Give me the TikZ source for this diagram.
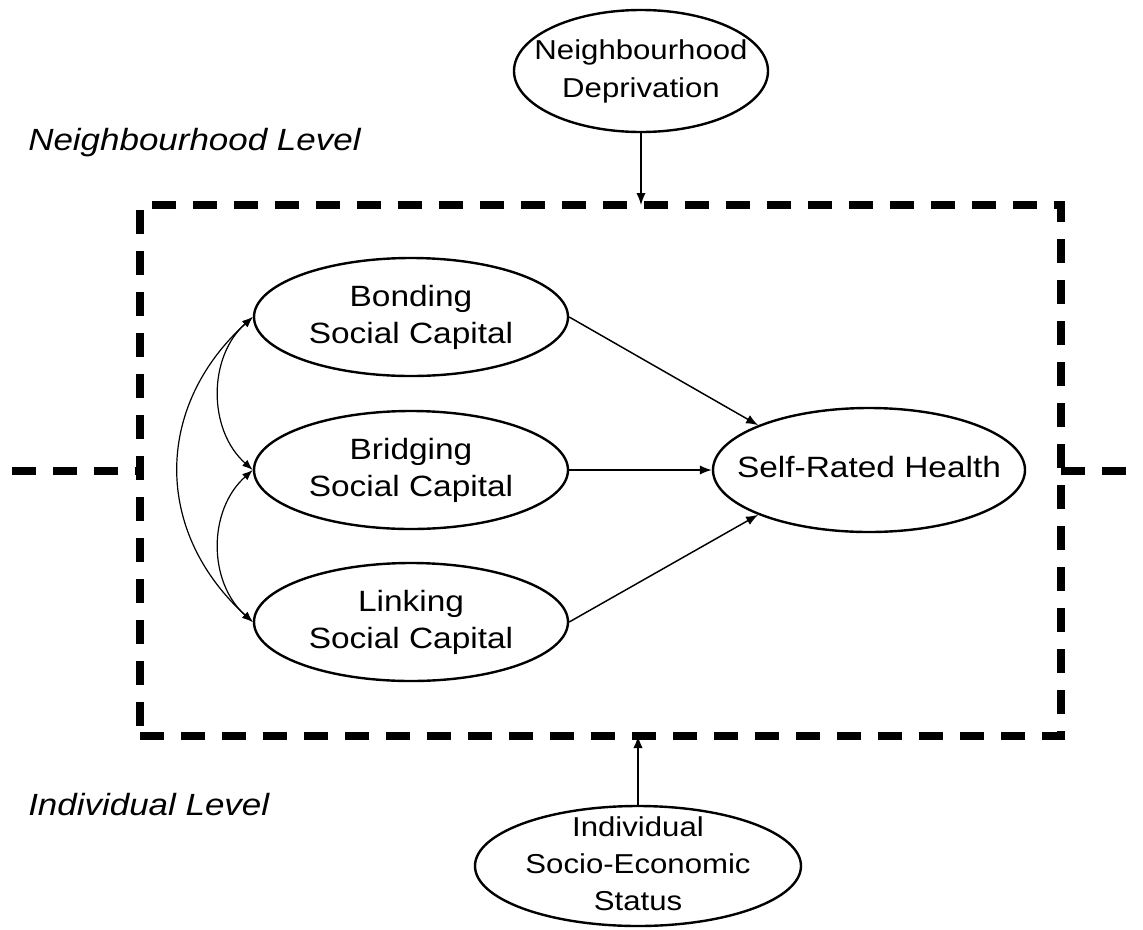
\documentclass[tikz,border=0pt]{standalone}
\usepackage{fontspec}
\setmainfont{Liberation Sans}[FakeStretch=1.14]
\usetikzlibrary{shapes.geometric,arrows.meta,calc}
\newcommand{\ztext}[1]{\makebox[0pt]{\smash{\raisebox{-0.25em}{\begin{tabular}{@{}c@{}}#1\end{tabular}}}}}
\begin{document}
\begin{tikzpicture}[x=0.75pt,y=-0.75pt,
  latent/.style={ellipse,draw,line width=1.8pt,inner sep=0pt,
    font=\fontsize{22}{28}\selectfont},
  small/.style={font=\fontsize{20.5}{28}\selectfont},
  lvl/.style={anchor=base west,inner sep=0pt,font=\fontsize{23}{28}\selectfont\itshape},
  path/.style={line width=1.1pt,-{Latex[length=9pt,width=7pt]}},
  cov/.style={line width=0.9pt,{Latex[length=8pt,width=6pt]}-{Latex[length=8pt,width=6pt]}},
  bigdash/.style={line width=5.5pt,dash pattern=on 18pt off 12.75pt}]
\useasboundingbox (0,0) rectangle (1143,929);

% dashed level box
\node[draw,bigdash,outer sep=0pt,inner sep=0pt,minimum width=690.75pt,minimum height=398.25pt] (box) at (600.5,470.5) {};
\coordinate (hl) at (12,471);
\coordinate (hr) at (1130,471);
\draw[bigdash] (hl) -- (hl -| box.west);
\draw[bigdash] (hr -| box.east) -- (hr);

% nodes
\node[latent,small,minimum width=190.5pt,minimum height=91.5pt] (nd) at (641,71) {\ztext{Neighbourhood\\Deprivation}};
\node[latent,minimum width=235.5pt,minimum height=88.5pt] (bond) at (411,317) {\ztext{Bonding\\Social Capital}};
\node[latent,minimum width=235.5pt,minimum height=88.5pt] (bridge) at (411,470) {\ztext{Bridging\\Social Capital}};
\node[latent,minimum width=235.5pt,minimum height=88.5pt] (link) at (411,622) {\ztext{Linking\\Social Capital}};
\node[latent,minimum width=234pt,minimum height=93pt] (srh) at (869,470) {\ztext{Self-Rated Health}};
\node[latent,small,minimum width=244.5pt,minimum height=90pt] (ises) at (638,866) {\ztext{Individual\\Socio-Economic\\Status}};

% level labels
\node[lvl] (nl) at (28,150) {Neighbourhood Level};
\node[lvl] (il) at (28,815) {Individual Level};

% paths
\draw[path] (nd.south) -- (nd.south |- box.north);
\draw[path] (ises.north) -- (ises.north |- box.south);
\draw[path] (bond.east) -- (srh.158);
\draw[path] (bridge.east) -- (srh.west);
\draw[path] (link.east) -- (srh.202);

% covariances
\draw[cov] (bond.west) .. controls ($(bond.west)+(-45,40)$) and ($(bridge.west)+(-45,-40)$) .. (bridge.west);
\draw[cov] (bridge.west) .. controls ($(bridge.west)+(-45,40)$) and ($(link.west)+(-45,-40)$) .. (link.west);
\draw[cov] (bond.west) .. controls ($(bond.west)+(-99,90)$) and ($(link.west)+(-99,-90)$) .. (link.west);
\end{tikzpicture}
\end{document}
